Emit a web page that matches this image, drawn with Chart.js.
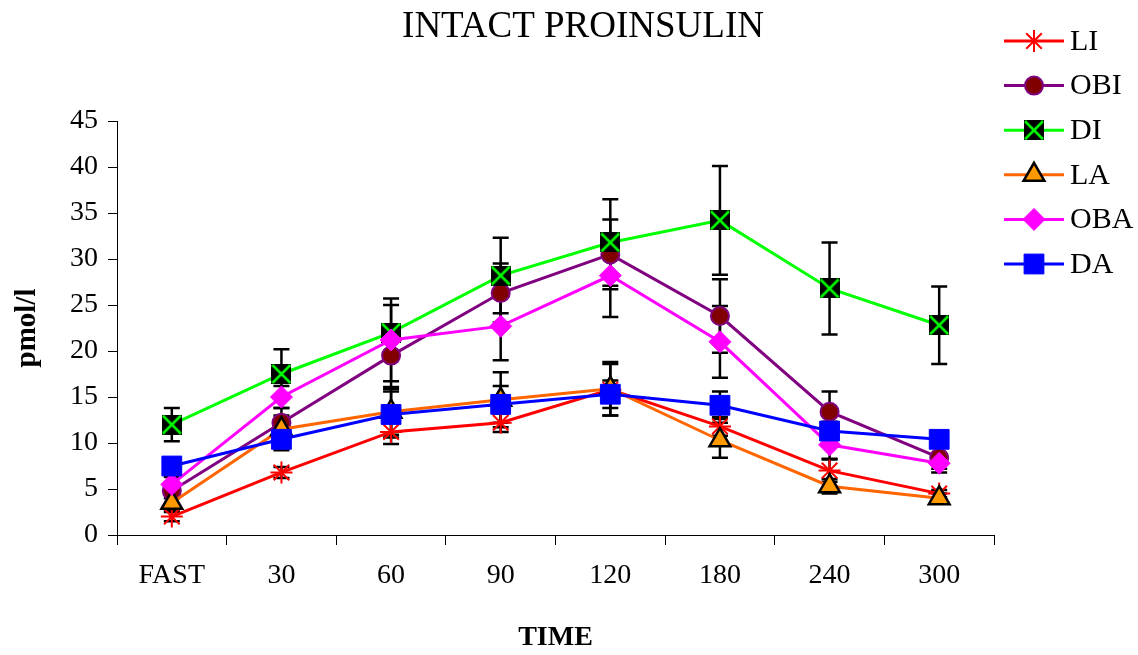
<!DOCTYPE html>
<html>
<head>
<meta charset="utf-8">
<script src="https://cdn.jsdelivr.net/npm/chart.js"></script>
<style>
  body { margin: 0; background: #fff; }
  #wrap { width: 1138px; height: 655px; position: relative; }
</style>
</head>
<body>
<div id="wrap"><canvas id="proinsulinChart"></canvas></div>
<script>
// values
var timeLabels = ["FAST", "30", "60", "90", "120", "180", "240", "300"];
var seriesNames = ["LI", "OBI", "DI", "LA", "OBA", "DA"];

var liValues  = [2.0, 6.8, 11.2, 12.2, 15.8, 11.8, 7.0, 4.5];
var obiValues = [4.8, 12.2, 19.5, 26.3, 30.5, 23.8, 13.4, 8.4];
var diValues  = [12.0, 17.5, 22.0, 28.2, 31.8, 34.2, 26.8, 22.8];
var laValues  = [3.5, 11.5, 13.4, 14.7, 15.9, 10.3, 5.3, 4.0];
var obaValues = [5.5, 15.0, 21.2, 22.7, 28.2, 21.0, 9.8, 7.8];
var daValues  = [7.5, 10.4, 13.1, 14.2, 15.3, 14.1, 11.3, 10.4];

// +/- error, same on both sides
var liErr  = [0.5, 0.6, 1.3, 1.0, 2.8, 1.0, 1.2, 0.4];
var obiErr = [0.8, 1.6, 3.4, 3.2, 3.8, 4.0, 2.2, 1.2];
var diErr  = [1.8, 2.7, 3.0, 4.1, 4.7, 5.9, 5.0, 4.2];
var laErr  = [0.8, 1.5, 2.5, 3.0, 2.9, 1.9, 0.8, 0.5];
var obaErr = [0.8, 1.2, 4.5, 3.7, 4.5, 3.9, 1.5, 1.0];
var daErr  = [0.7, 1.2, 2.5, 2.0, 1.5, 1.5, 1.0, 0.8];

var yTickMin = 0, yTickMax = 45, yTickStep = 5;

var serif = "'Liberation Serif', 'Times New Roman', serif";

// black square with a green cross for DI
function makeDiMarker() {
    var c = document.createElement('canvas');
    c.width = 20;
    c.height = 20;
    var g = c.getContext('2d');
    g.fillStyle = '#000';
    g.fillRect(0, 0, 20, 20);
    g.strokeStyle = '#00ff00';
    g.lineWidth = 2.5;
    g.beginPath();
    g.moveTo(1, 1); g.lineTo(19, 19);
    g.moveTo(19, 1); g.lineTo(1, 19);
    g.stroke();
    return c;
}
var diMarker = makeDiMarker();

function series(label, values, errs, line, fill, border, style, radius, bw, order) {
    return {
        label: label,
        data: values,
        errors: errs,
        borderColor: line,
        borderWidth: 3,
        pointStyle: style,
        pointRadius: radius,
        pointHoverRadius: radius,
        pointBackgroundColor: fill,
        pointBorderColor: border,
        pointBorderWidth: bw,
        tension: 0,
        order: order
    };
}

var datasets = [
    series(seriesNames[0], liValues, liErr, '#ff0000', '#ff0000', '#ff0000', 'star', 11, 2, 6),
    series(seriesNames[1], obiValues, obiErr, '#800080', '#800000', '#800080', 'circle', 9, 2, 5),
    series(seriesNames[2], diValues, diErr, '#00ff00', '#000000', '#000000', diMarker, 10, 0, 4),
    series(seriesNames[3], laValues, laErr, '#ff6600', '#ff9900', '#000000', 'triangle', 12, 2.5, 3),
    series(seriesNames[4], obaValues, obaErr, '#ff00ff', '#ff00ff', '#ff00ff', 'rectRot', 11, 1, 2),
    series(seriesNames[5], daValues, daErr, '#0000ff', '#0000ff', '#0000ff', 'rect', 14, 1, 1)
];

// error bars go under the markers
var errorBars = {
    id: 'errorBars',
    beforeDatasetsDraw: function (chart) {
        var ctx = chart.ctx;
        var ys = chart.scales.y;
        ctx.save();
        ctx.strokeStyle = '#000';
        ctx.lineWidth = 2.5;
        chart.data.datasets.forEach(function (ds, i) {
            var meta = chart.getDatasetMeta(i);
            meta.data.forEach(function (pt, j) {
                var v = ds.data[j], e = ds.errors[j];
                var top = ys.getPixelForValue(v + e);
                var bot = ys.getPixelForValue(v - e);
                ctx.beginPath();
                ctx.moveTo(pt.x, top); ctx.lineTo(pt.x, bot);
                ctx.moveTo(pt.x - 8, top); ctx.lineTo(pt.x + 8, top);
                ctx.moveTo(pt.x - 8, bot); ctx.lineTo(pt.x + 8, bot);
                ctx.stroke();
            });
        });
        ctx.restore();
    }
};

// title and legend in the spots the original uses
var titleAndLegend = {
    id: 'titleAndLegend',
    afterDraw: function (chart) {
        var ctx = chart.ctx;
        ctx.save();
        ctx.fillStyle = '#000';
        ctx.font = '37px ' + serif;
        ctx.textAlign = 'center';
        ctx.textBaseline = 'middle';
        ctx.fillText('INTACT PROINSULIN', 583, 27);

        ctx.font = '30px ' + serif;
        ctx.textAlign = 'left';
        chart.data.datasets.forEach(function (ds, i) {
            var y = 41 + i * 44.6;
            ctx.strokeStyle = ds.borderColor;
            ctx.lineWidth = 3;
            ctx.beginPath();
            ctx.moveTo(1004, y); ctx.lineTo(1064, y);
            ctx.stroke();
            ctx.fillStyle = ds.pointBackgroundColor;
            ctx.strokeStyle = ds.pointBorderColor;
            ctx.lineWidth = ds.pointBorderWidth;
            Chart.helpers.drawPoint(ctx, {
                pointStyle: ds.pointStyle,
                radius: ds.pointRadius,
                borderWidth: ds.pointBorderWidth,
                rotation: 0
            }, 1034, y);
            ctx.fillStyle = '#000';
            ctx.fillText(ds.label, 1070, y + 1);
        });
        ctx.restore();
    }
};

new Chart("proinsulinChart", {
    type: "line",
    data: {
        labels: timeLabels,
        datasets: datasets
    },
    plugins: [errorBars, titleAndLegend],
    options: {
        responsive: true,
        maintainAspectRatio: false,
        animation: false,
        layout: {
            padding: { top: 121, right: 144, bottom: 0, left: 0 }
        },
        plugins: {
            legend: { display: false },
            tooltip: { enabled: false },
            title: { display: false }
        },
        scales: {
            x: {
                offset: true,
                grid: {
                    display: true,
                    offset: true,
                    drawOnChartArea: false,
                    drawTicks: true,
                    tickLength: 10,
                    color: '#000'
                },
                border: { display: true, color: '#000', width: 1 },
                ticks: {
                    color: '#000',
                    padding: 14,
                    maxRotation: 0,
                    font: { size: 28, family: serif }
                },
                title: {
                    display: true,
                    text: 'TIME',
                    color: '#000',
                    padding: { top: 18, bottom: 0 },
                    font: { size: 28, weight: 'bold', family: serif }
                },
                afterFit: function (scale) { scale.height = 120; }
            },
            y: {
                min: yTickMin,
                max: yTickMax,
                grid: {
                    display: true,
                    drawOnChartArea: false,
                    drawTicks: true,
                    tickLength: 9,
                    color: '#000'
                },
                border: { display: true, color: '#000', width: 1 },
                ticks: {
                    stepSize: yTickStep,
                    color: '#000',
                    padding: 10,
                    font: { size: 28, family: serif }
                },
                title: {
                    display: true,
                    text: 'pmol/l',
                    color: '#000',
                    padding: { top: 10, bottom: 0 },
                    font: { size: 29, weight: 'bold', family: serif }
                },
                afterFit: function (scale) { scale.width = 117; }
            }
        }
    }
});
</script>
</body>
</html>
